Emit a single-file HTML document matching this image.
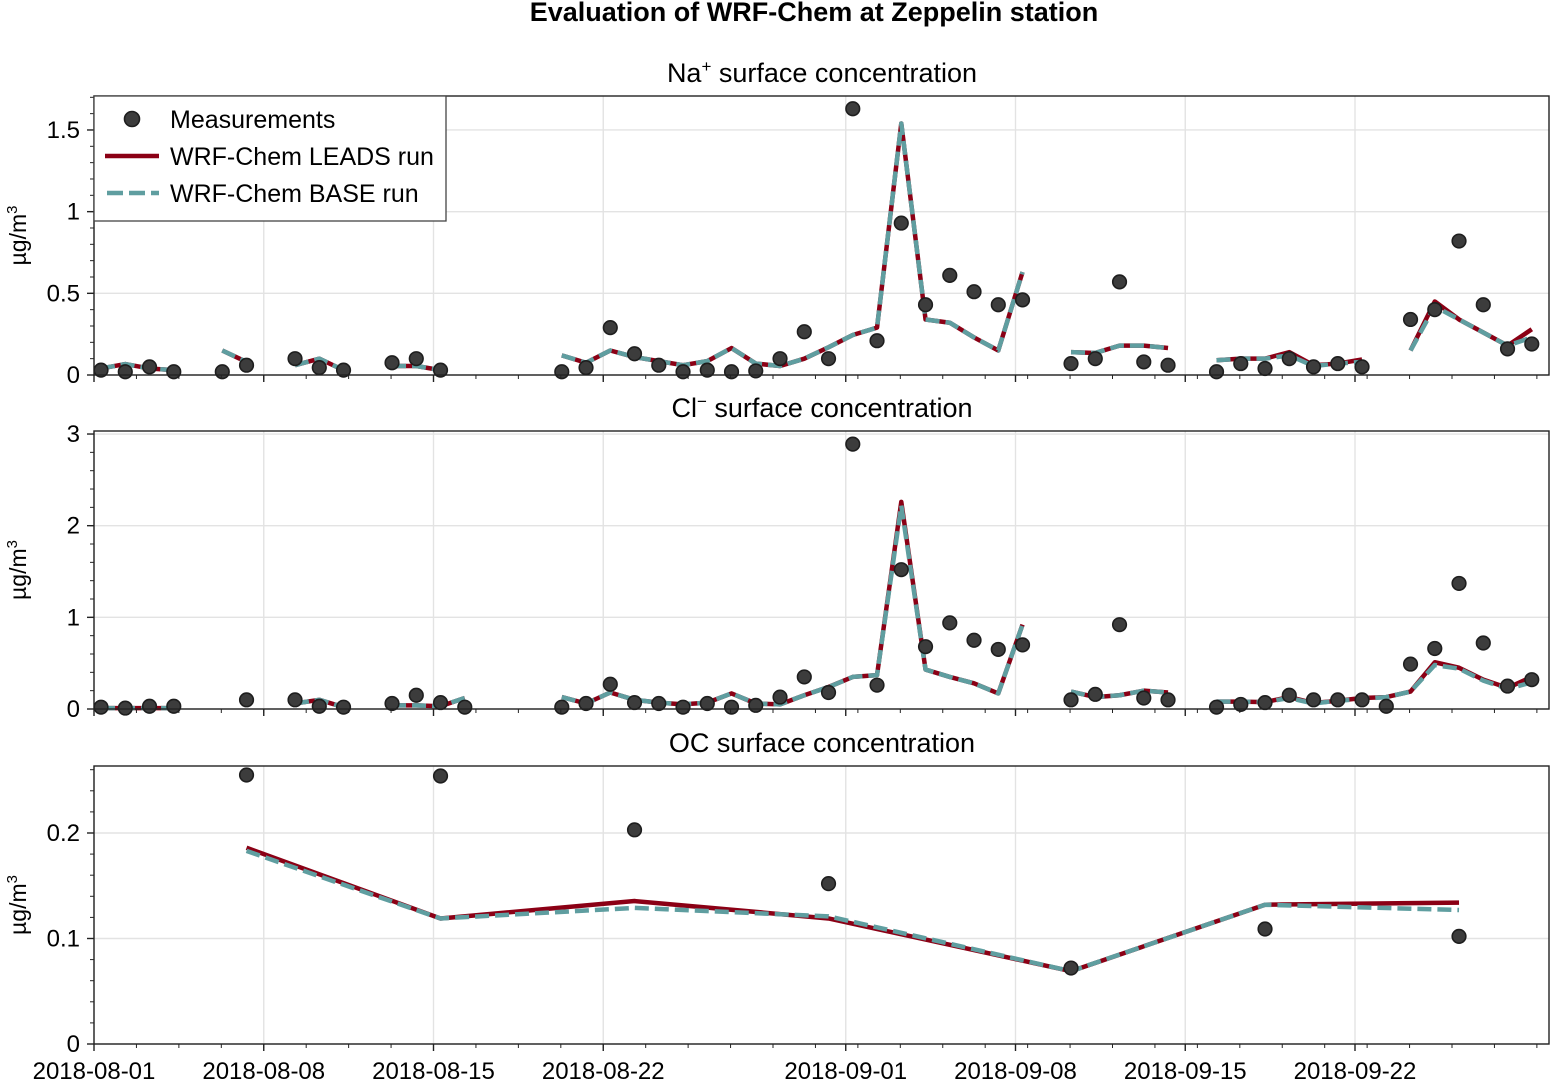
<!DOCTYPE html>
<html><head><meta charset="utf-8"><style>
body{margin:0;background:#fff;}
svg text{font-family:"Liberation Sans",Arial,sans-serif;fill:#000;}
</style></head><body>
<svg id="chart" width="1551" height="1080" xmlns="http://www.w3.org/2000/svg">
<rect width="1551" height="1080" fill="#fff"/>
<text x="814" y="21" font-size="27" font-weight="bold" text-anchor="middle">Evaluation of WRF-Chem at Zeppelin station</text>
</svg>
<script>
// ---- data ----
const xTickLabels = ["2018-08-01","2018-08-08","2018-08-15","2018-08-22","2018-09-01","2018-09-08","2018-09-15","2018-09-22"];
const xTickDays = [0,7,14,21,31,38,45,52];

const naDays = [0,1,2,3,5,6,8,9,10,12,13,14,19,20,21,22,23,24,25,26,27,28,29,30,31,32,33,34,35,36,37,38,40,41,42,43,44,46,47,48,49,50,51,52,54,55,56,57,58,59];
const naMeas = [0.03,0.02,0.05,0.02,0.02,0.06,0.1,0.045,0.03,0.075,0.1,0.03,0.02,0.045,0.29,0.13,0.06,0.02,0.03,0.02,0.025,0.1,0.265,0.1,1.63,0.21,0.93,0.43,0.61,0.51,0.43,0.46,0.07,0.1,0.57,0.08,0.06,0.02,0.07,0.04,0.1,0.05,0.07,0.05,0.34,0.4,0.82,0.43,0.16,0.19];
const naSegDays = [[0,1,2,3],[5,6],[8,9,10],[12,13,14],[19,20,21,22,23,24,25,26,27,28,29,30,31,32,33,34,35,36,37,38],[40,41,42,43,44],[46,47,48,49,50,51,52],[54,55,56,57,58,59]];
const naLeads = [[0.04,0.067,0.04,0.03],[0.15,0.08],[0.06,0.1,0.03],[0.055,0.055,0.03],[0.12,0.075,0.15,0.11,0.085,0.06,0.085,0.165,0.07,0.055,0.1,0.17,0.245,0.29,1.54,0.34,0.32,0.23,0.15,0.63],[0.14,0.135,0.18,0.18,0.165],[0.09,0.1,0.1,0.14,0.06,0.07,0.095],[0.15,0.45,0.34,0.26,0.18,0.28]];
const naBase = [[0.04,0.067,0.04,0.03],[0.15,0.08],[0.06,0.1,0.03],[0.055,0.055,0.03],[0.12,0.075,0.15,0.11,0.085,0.06,0.085,0.165,0.07,0.055,0.1,0.17,0.245,0.29,1.54,0.34,0.32,0.23,0.15,0.63],[0.14,0.135,0.18,0.18,0.165],[0.09,0.1,0.1,0.12,0.055,0.07,0.08],[0.15,0.42,0.34,0.26,0.18,0.23]];

const clDays = [0,1,2,3,6,8,9,10,12,13,14,15,19,20,21,22,23,24,25,26,27,28,29,30,31,32,33,34,35,36,37,38,40,41,42,43,44,46,47,48,49,50,51,52,53,54,55,56,57,58,59];
const clMeas = [0.02,0.01,0.03,0.03,0.1,0.1,0.03,0.02,0.06,0.15,0.07,0.02,0.02,0.06,0.27,0.07,0.06,0.02,0.06,0.02,0.04,0.13,0.35,0.18,2.89,0.26,1.52,0.68,0.94,0.75,0.65,0.7,0.1,0.16,0.92,0.12,0.1,0.02,0.05,0.07,0.15,0.1,0.1,0.1,0.03,0.49,0.66,1.37,0.72,0.25,0.32];
const clSegDays = [[0,1,2,3],[8,9,10],[12,13,14,15],[19,20,21,22,23,24,25,26,27,28,29,30,31,32,33,34,35,36,37,38],[40,41,42,43,44],[46,47,48,49,50,51,52,53,54,55,56,57,58,59]];
const clLeads = [[0.01,0.01,0.01,0.01],[0.06,0.1,0.02],[0.04,0.04,0.03,0.12],[0.13,0.06,0.18,0.1,0.07,0.05,0.07,0.17,0.06,0.05,0.15,0.24,0.35,0.37,2.26,0.43,0.35,0.28,0.17,0.92],[0.19,0.13,0.15,0.2,0.18],[0.08,0.08,0.075,0.13,0.065,0.09,0.12,0.13,0.19,0.51,0.45,0.32,0.23,0.35]];
const clBase = [[0.01,0.01,0.01,0.01],[0.06,0.1,0.02],[0.04,0.04,0.03,0.12],[0.13,0.06,0.18,0.1,0.07,0.05,0.07,0.17,0.06,0.05,0.15,0.24,0.35,0.37,2.22,0.43,0.35,0.28,0.17,0.92],[0.19,0.13,0.15,0.2,0.18],[0.08,0.08,0.075,0.12,0.06,0.09,0.11,0.13,0.19,0.48,0.44,0.31,0.22,0.29]];

const ocDays = [6,14,22,30,40,48,56];
const ocMeas = [0.255,0.254,0.203,0.152,0.072,0.109,0.102];
const ocLeads = [0.186,0.119,0.1355,0.119,0.069,0.132,0.134];
const ocBase = [0.183,0.119,0.129,0.121,0.069,0.132,0.127];

// ---- drawing ----
const svg = document.getElementById('chart');
const NS = 'http://www.w3.org/2000/svg';
const X0 = 94, X1 = 1549, NDAYS = 60;
function xs(d){ return X0 + d*(X1-X0)/NDAYS; }
const OFF = 0.29;
function mk(tag, attrs, parent){
  const e = document.createElementNS(NS, tag);
  for (const k in attrs) e.setAttribute(k, attrs[k]);
  (parent||svg).appendChild(e);
  return e;
}
function panel(cfg){
  const g = mk('g', {});
  
  
  const ys = v => cfg.yb - v*(cfg.yb-cfg.yt)/cfg.ymax;
  cfg.yMajor.forEach(v=>{
    const l = mk('line',{x1:X0,x2:X1,y1:ys(v),y2:ys(v),stroke:'#e3e3e3','stroke-width':1.4},g);
     
  });
  xTickDays.forEach(d=>{
    const l = mk('line',{x1:xs(d),x2:xs(d),y1:cfg.yt,y2:cfg.yb,stroke:'#e3e3e3','stroke-width':1.4},g);
     
  });
  function drawLine(days, vals, color, dash, nm){
    const p = mk('polyline',{points:days.map((d,i)=>xs(d+OFF)+','+ys(vals[i])).join(' '),fill:'none',stroke:color,'stroke-width':4.5,'stroke-linejoin':'round'},g);
    if (dash) p.setAttribute('stroke-dasharray', dash);
    
    
  }
  cfg.segDays.forEach((sd,i)=>drawLine(sd,cfg.leads[i],'#8b0015',null,'leads-line'));
  cfg.segDays.forEach((sd,i)=>drawLine(sd,cfg.base[i],'#5f9ea0','14 6','base-line'));
  cfg.mDays.forEach((d,i)=>{
    const c = mk('circle',{cx:xs(d+OFF),cy:ys(cfg.meas[i]),r:6.8,fill:'#3c3c3c',stroke:'#1e1e1e','stroke-width':1.6},g);
    
    
  });
  const fr = mk('rect',{x:X0,y:cfg.yt,width:X1-X0,height:cfg.yb-cfg.yt,fill:'none',stroke:'#222','stroke-width':1.4},g);
   
  for (let v=0; v<=cfg.ymax+1e-9; v+=cfg.minor){
    mk('line',{x1:X0-4,x2:X0,y1:ys(v),y2:ys(v),stroke:'#222','stroke-width':1},g);
  }
  cfg.yMajor.forEach((v,i)=>{
    mk('line',{x1:X0-7,x2:X0,y1:ys(v),y2:ys(v),stroke:'#222','stroke-width':1.4},g);
    const t = mk('text',{x:X0-14,y:ys(v)+8,'font-size':24,'text-anchor':'end'},g);
    t.textContent = cfg.yLabels[i];
     
  });
  for (let k=0;k*1.75<NDAYS;k++){
    mk('line',{x1:xs(k*1.75),x2:xs(k*1.75),y1:cfg.yb,y2:cfg.yb+4,stroke:'#222','stroke-width':1},g);
  }
  xTickDays.forEach((d,i)=>{
    mk('line',{x1:xs(d),x2:xs(d),y1:cfg.yb,y2:cfg.yb+7,stroke:'#222','stroke-width':1.4},g);
    if (cfg.showX){
      const t = mk('text',{x:xs(d),y:cfg.yb+35,'font-size':24,'text-anchor':'middle'},g);
      t.textContent = xTickLabels[i];
       
    }
  });
  const tt = mk('text',{x:822,y:cfg.yt-14,'font-size':27,'text-anchor':'middle'},g);
  tt.innerHTML = cfg.title;
   
  const yl = mk('text',{x:0,y:0,'font-size':23,'text-anchor':'middle',transform:'translate(26,'+((cfg.yt+cfg.yb)/2)+') rotate(-90)'},g);
  yl.innerHTML = 'µg/m<tspan font-size="15" dy="-9">3</tspan>';
   
}
panel({name:'na-panel',yt:96,yb:375,ymax:1.708,minor:0.1,yMajor:[0,0.5,1,1.5],yLabels:['0','0.5','1','1.5'],
  mDays:naDays,meas:naMeas,segDays:naSegDays,leads:naLeads,base:naBase,showX:false,
  title:'Na<tspan font-size="17" dy="-10">+</tspan><tspan dy="10"> surface concentration</tspan>'});
panel({name:'cl-panel',yt:431,yb:709,ymax:3.033,minor:0.2,yMajor:[0,1,2,3],yLabels:['0','1','2','3'],
  mDays:clDays,meas:clMeas,segDays:clSegDays,leads:clLeads,base:clBase,showX:false,
  title:'Cl<tspan font-size="17" dy="-10">−</tspan><tspan dy="10"> surface concentration</tspan>'});
panel({name:'oc-panel',yt:766,yb:1044,ymax:0.2635,minor:0.02,yMajor:[0,0.1,0.2],yLabels:['0','0.1','0.2'],
  mDays:ocDays,meas:ocMeas,segDays:[ocDays],leads:[ocLeads],base:[ocBase],showX:true,
  title:'OC surface concentration'});

const lg = mk('g',{});
 
mk('rect',{x:94,y:96,width:352,height:125,fill:'#fff',stroke:'#444','stroke-width':1.3},lg);
const lc = mk('circle',{cx:132,cy:119,r:7.5,fill:'#3c3c3c',stroke:'#1e1e1e','stroke-width':1.6},lg);
 
mk('line',{x1:105,x2:159,y1:156,y2:156,stroke:'#8b0015','stroke-width':4.5},lg);
mk('line',{x1:107,x2:159,y1:193,y2:193,stroke:'#5f9ea0','stroke-width':4.5,'stroke-dasharray':'16 6'},lg);
[['Measurements',128,'legend-measurements'],['WRF-Chem LEADS run',165,'legend-leads'],['WRF-Chem BASE run',202,'legend-base']].forEach(a=>{
  const t = mk('text',{x:170,y:a[1],'font-size':25},lg);
  t.textContent = a[0];
  
  
});
</script>
</body></html>
